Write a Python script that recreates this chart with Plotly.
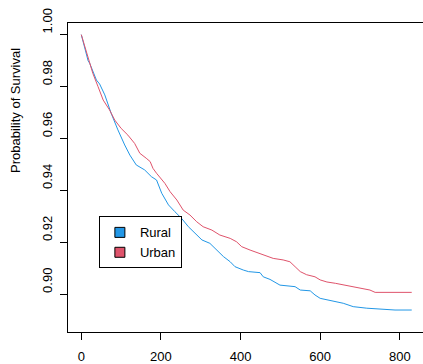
import plotly.graph_objects as go

# Kaplan-Meier style survival curves (time in days, survival probability)
rural_t = [0, 17, 21, 38, 46, 59, 75, 84, 92, 109, 122, 138, 159, 176, 189, 202, 219, 235, 252,
           269, 286, 303, 323, 340, 357, 374, 386, 407, 420, 449, 457, 474, 499, 537, 550, 575,
           587, 600, 621, 638, 658, 683, 717, 788, 830]
rural_s = [1.000, 0.990, 0.989, 0.9825, 0.981, 0.9768, 0.9697, 0.9659, 0.9633, 0.9575, 0.9536,
           0.9498, 0.9479, 0.9453, 0.944, 0.9389, 0.9344, 0.9318, 0.9292, 0.926, 0.9235, 0.9209,
           0.9196, 0.917, 0.9145, 0.9125, 0.9106, 0.9093, 0.9087, 0.9083, 0.9067, 0.9057, 0.9035,
           0.9029, 0.9016, 0.9013, 0.8997, 0.8984, 0.8978, 0.8971, 0.8965, 0.8952, 0.8946, 0.8939,
           0.8939]

urban_t = [0, 17, 29, 42, 55, 71, 84, 100, 117, 134, 147, 163, 173, 180, 189, 210, 223, 240, 256,
           273, 290, 306, 328, 348, 374, 390, 403, 424, 441, 457, 482, 507, 524, 537, 550, 566,
           587, 600, 617, 638, 667, 692, 708, 725, 738, 830]
urban_s = [1.000, 0.9915, 0.9851, 0.980, 0.9748, 0.971, 0.9671, 0.9639, 0.9613, 0.9581, 0.9543,
           0.9524, 0.9511, 0.9485, 0.9466, 0.9427, 0.9395, 0.9363, 0.9324, 0.9305, 0.9279, 0.926,
           0.9247, 0.9228, 0.9215, 0.9202, 0.9183, 0.917, 0.916, 0.9151, 0.9138, 0.9132, 0.9125,
           0.9106, 0.9087, 0.9075, 0.9067, 0.9055, 0.9047, 0.9042, 0.9033, 0.9026, 0.902, 0.9016,
           0.9007, 0.9007]

series_names = ["Rural", "Urban"]
series_colors = ["#2297E6", "#DF536B"]

x_ticks = [0, 200, 400, 600, 800]
y_ticks = [0.90, 0.92, 0.94, 0.96, 0.98, 1.00]
y_tick_text = ["0.90", "0.92", "0.94", "0.96", "0.98", "1.00"]
y_title = "Probability of Survival"

FONT = "Liberation Sans, Arial, sans-serif"

fig = go.Figure()
for t, s, name, col in [(rural_t, rural_s, series_names[0], series_colors[0]),
                        (urban_t, urban_s, series_names[1], series_colors[1])]:
    fig.add_trace(go.Scatter(x=t, y=s, mode="lines", line=dict(color=col, width=1, shape="linear"),
                             showlegend=False, hoverinfo="skip"))
for name, col in zip(series_names, series_colors):
    fig.add_trace(go.Scatter(x=[None], y=[None], mode="markers", name=name,
                             marker=dict(symbol="square", size=10, color=col,
                                         line=dict(color="black", width=1))))

fig.update_layout(
    width=423, height=364,
    margin=dict(l=68, r=0, t=23, b=32, pad=0),
    paper_bgcolor="white", plot_bgcolor="white",
    font=dict(family=FONT, size=13, color="black"),
    legend=dict(x=0.087, y=0.374, xanchor="left", yanchor="top",
                bgcolor="white", bordercolor="black", borderwidth=1,
                font=dict(family=FONT, size=13, color="black"),
                itemwidth=30, tracegroupgap=0),
    annotations=[dict(text=y_title, xref="paper", yref="paper", x=-0.148, y=0.717,
                      xanchor="center", yanchor="middle", textangle=-90, showarrow=False,
                      font=dict(family=FONT, size=13, color="black"))],
)
fig.update_xaxes(range=[-33.4, 858.3], tickvals=x_ticks, ticks="outside", ticklen=7,
                 tickcolor="black", tickwidth=1, showline=True, linecolor="black", linewidth=1,
                 mirror=True, showgrid=False, zeroline=False, ticklabelstandoff=5)
fig.update_yaxes(range=[0.88543, 1.0045], tickvals=y_ticks, ticktext=y_tick_text,
                 ticks="outside", ticklen=7, tickcolor="black", tickwidth=1,
                 showline=True, linecolor="black", linewidth=1, mirror=False,
                 showgrid=False, zeroline=False, tickangle=-90, ticklabelshift=-12,
                 ticklabelstandoff=3)

fig.write_html("out.html", config={"displayModeBar": False},
               post_script="document.body.style.margin='0';")
